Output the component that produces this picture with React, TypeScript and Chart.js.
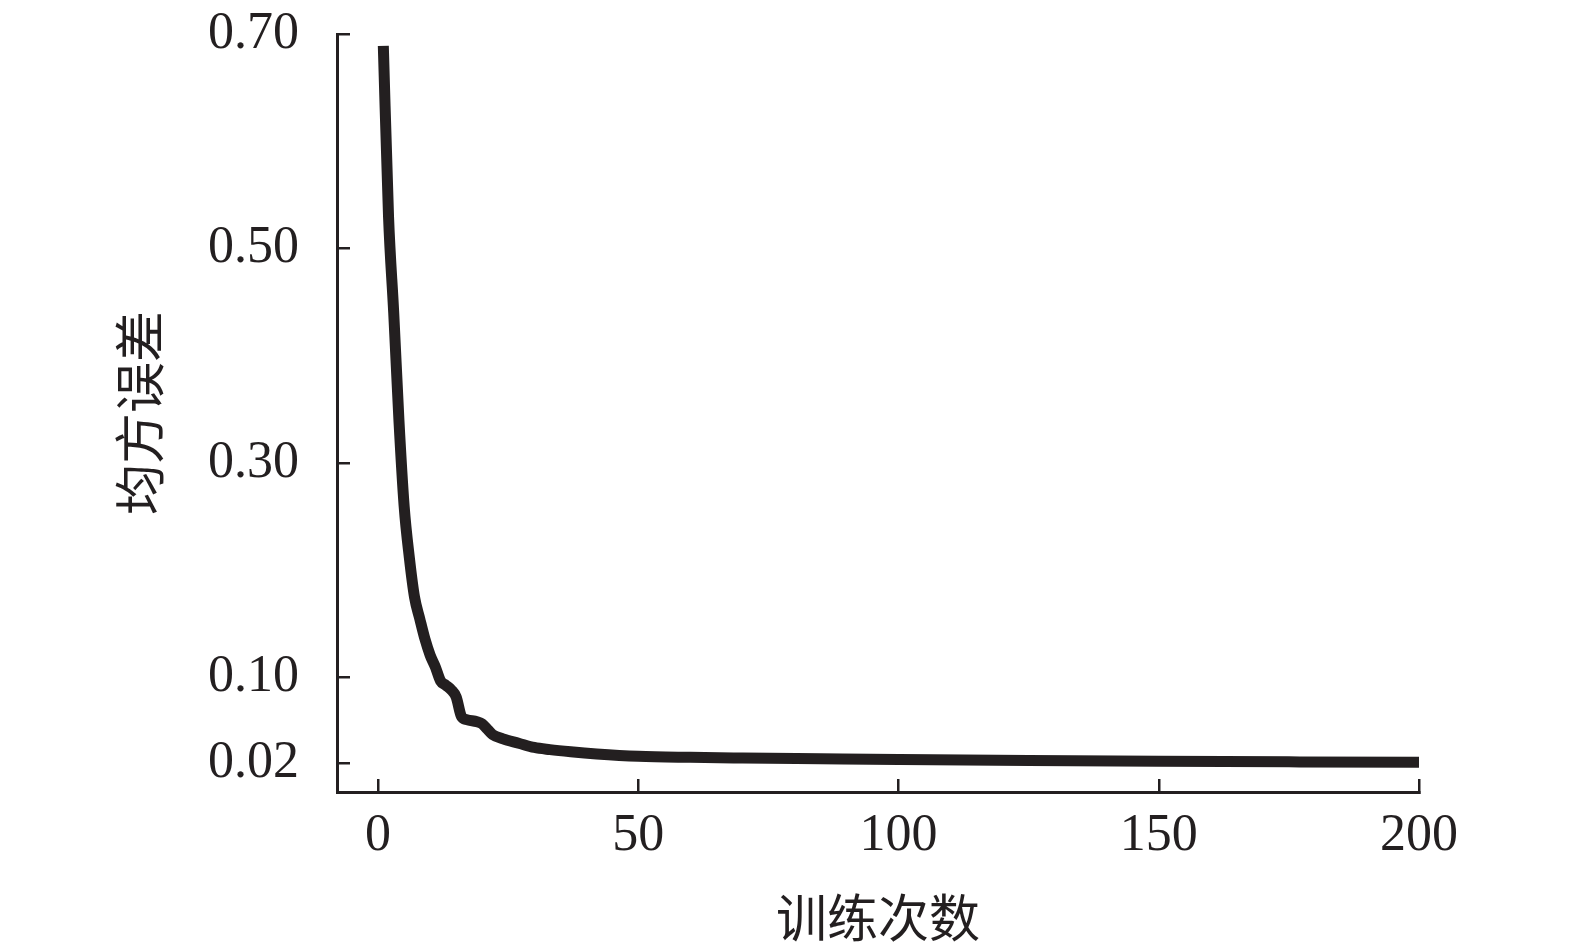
import React, { useEffect, useRef } from "react";
import { Chart, registerables } from "chart.js";

Chart.register(...registerables);

// Training epochs (x) and mean squared error (y)
const epochs = [1, 2, 3, 4, 5, 6, 7, 8, 9, 10, 11, 12, 13, 14, 15, 16, 17, 19, 20, 21, 22, 24, 27, 30, 33, 37, 42, 50, 60, 70, 85, 100, 125, 150, 175, 200];
const mse = [0.689, 0.53, 0.44, 0.34, 0.26, 0.212, 0.175, 0.155, 0.136, 0.121, 0.11, 0.097, 0.093, 0.089, 0.082, 0.064, 0.061, 0.059, 0.057, 0.052, 0.047, 0.043, 0.039, 0.035, 0.033, 0.031, 0.029, 0.0268, 0.0258, 0.0252, 0.0245, 0.0238, 0.0228, 0.0221, 0.0216, 0.0212];

const xTicks = [0, 50, 100, 150, 200];
const yTicks = [0.02, 0.1, 0.3, 0.5, 0.7];
const xTitle = "训练次数";
const yTitle = "均方误差";

export default function App() {
  const ref = useRef<HTMLCanvasElement>(null);

  useEffect(() => {
    const ink = "#231f20";
    const tickFont = { family: '"Liberation Serif", "Times New Roman", serif', size: 52 };
    const titleFont = { family: '"Noto Sans CJK SC", sans-serif', size: 51, lineHeight: 1.2 };
    const chart = new Chart(ref.current as HTMLCanvasElement, {
      type: "line",
      data: {
        datasets: [
          {
            data: epochs.map((e, i) => ({ x: e, y: mse[i] })),
            borderColor: ink,
            borderWidth: 11,
            pointRadius: 0,
            cubicInterpolationMode: "monotone",
            fill: false,
          },
        ],
      },
      options: {
        responsive: false,
        animation: false,
        layout: { padding: { left: 0, top: 34, right: 156, bottom: 0 } },
        plugins: { legend: { display: false }, tooltip: { enabled: false } },
        scales: {
          x: {
            type: "linear",
            min: -7.9,
            max: 200,
            afterBuildTicks: (s: any) => {
              s.ticks = xTicks.map((v) => ({ value: v }));
            },
            afterFit: (s: any) => {
              s.height = 156;
              s.paddingLeft = 0;
              s.paddingRight = 0;
            },
            ticks: {
              color: ink,
              font: tickFont,
              padding: 26,
              maxRotation: 0,
              autoSkip: false,
              callback: (v: any) => String(v),
            },
            grid: {
              drawOnChartArea: false,
              drawTicks: true,
              tickLength: -13,
              color: ink,
              lineWidth: 2.5,
            },
            border: { display: true, color: ink, width: 3 },
            title: {
              display: true,
              text: xTitle,
              color: ink,
              font: { ...titleFont, lineHeight: 1 },
              padding: { top: 0, bottom: 5 },
            },
          },
          y: {
            type: "linear",
            min: -0.0065,
            max: 0.7,
            afterBuildTicks: (s: any) => {
              s.ticks = yTicks.map((v) => ({ value: v }));
            },
            afterFit: (s: any) => {
              s.width = 337;
              s.paddingTop = 0;
              s.paddingBottom = 0;
            },
            ticks: {
              color: ink,
              font: tickFont,
              padding: 51,
              autoSkip: false,
              callback: (v: any) => Number(v).toFixed(2),
            },
            grid: {
              drawOnChartArea: false,
              drawTicks: true,
              tickLength: -13,
              color: ink,
              lineWidth: 2.5,
            },
            border: { display: true, color: ink, width: 3 },
            title: {
              display: true,
              text: yTitle,
              color: ink,
              font: titleFont,
              padding: { top: 109, bottom: 0 },
            },
          },
        },
      },
    } as any);
    return () => chart.destroy();
  }, []);

  return (
    <div style={{ position: "fixed", left: 0, top: 0, width: 1575, height: 948, background: "#ffffff" }}>
      <canvas ref={ref} width={1575} height={948} style={{ display: "block" }} />
    </div>
  );
}
